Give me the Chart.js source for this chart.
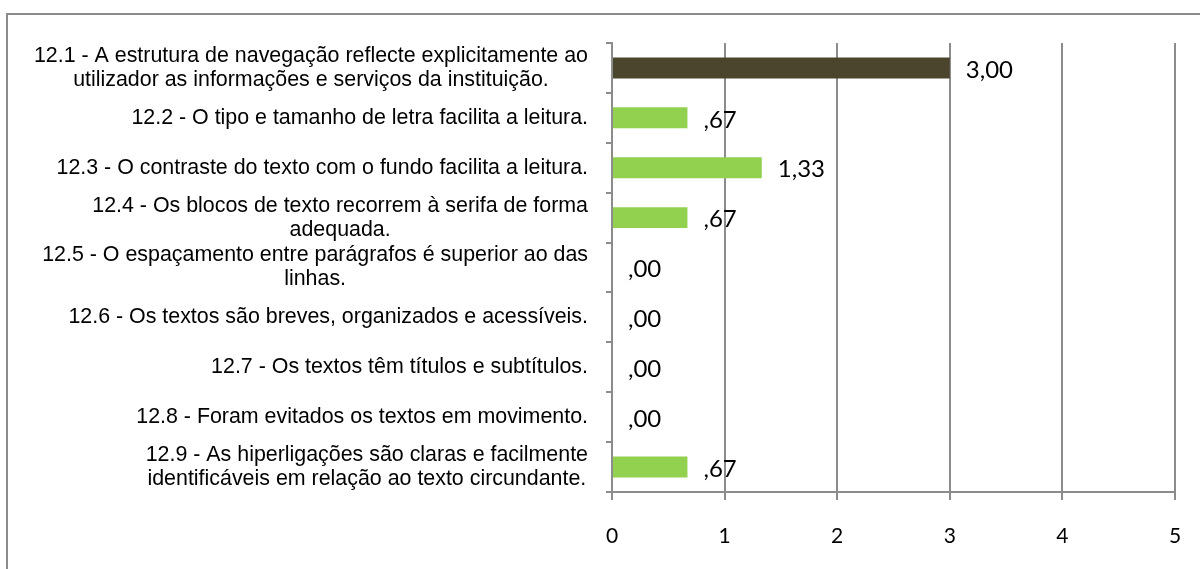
<!DOCTYPE html>
<html>
<head>
<meta charset="utf-8">
<script src="https://cdn.jsdelivr.net/npm/chart.js@4"></script>
<style>
html,body{margin:0;padding:0;background:#fff;}
#wrap{width:1200px;height:569px;position:relative;}
</style>
</head>
<body>
<div id="wrap"><canvas id="c" width="1200" height="569"></canvas></div>
<script>
const categories = [
  ["12.1 - A estrutura de navegação reflecte explicitamente ao", "utilizador as informações e serviços da instituição."],
  ["12.2 - O tipo e tamanho de letra facilita a leitura."],
  ["12.3 - O contraste do texto com o fundo facilita a leitura."],
  ["12.4 - Os blocos de texto recorrem à serifa de forma", "adequada."],
  ["12.5 - O espaçamento entre parágrafos é superior ao das", "linhas."],
  ["12.6 - Os textos são breves, organizados e acessíveis."],
  ["12.7 - Os textos têm títulos e subtítulos."],
  ["12.8 - Foram evitados os textos em movimento."],
  ["12.9 - As hiperligações são claras e facilmente", "identificáveis em relação ao texto circundante."]
];
const values = [3.00, 0.67, 1.33, 0.67, 0.00, 0.00, 0.00, 0.00, 0.67];
const barColors = ["#4B452E", "#92D050", "#92D050", "#92D050", "#92D050", "#92D050", "#92D050", "#92D050", "#92D050"];
const xTicks = [0, 1, 2, 3, 4, 5];

const GRID = "#8C8C8C";
const LABEL_FONT = "21.4px 'Liberation Sans', Arial, sans-serif";
const LINE_H = 24;

function fmt(v) {
  let s = v.toFixed(2).replace('.', ',');
  if (s.startsWith('0,')) s = s.slice(1);
  return s;
}

const borderPlugin = {
  id: 'border',
  beforeDraw(chart) {
    const ctx = chart.ctx;
    ctx.save();
    ctx.fillStyle = '#fff';
    ctx.fillRect(0, 0, chart.width, chart.height);
    ctx.strokeStyle = GRID;
    ctx.lineWidth = 2;
    ctx.strokeRect(7, 14, 1400, 800);
    ctx.restore();
  }
};

const catLabelPlugin = {
  id: 'catLabels',
  afterDraw(chart) {
    const ctx = chart.ctx;
    const ys = chart.scales.y, xs = chart.scales.x;
    ctx.save();
    ctx.font = LABEL_FONT;
    ctx.fillStyle = '#000';
    ctx.textAlign = 'center';
    ctx.textBaseline = 'middle';
    const right = ys.right - 24;
    categories.forEach((lines, i) => {
      const cy = ys.getPixelForValue(i);
      const w = Math.max(...lines.map(l => ctx.measureText(l).width));
      const cx = right - w / 2;
      const y0 = cy - (lines.length - 1) * LINE_H / 2;
      lines.forEach((l, k) => ctx.fillText(l, cx, y0 + k * LINE_H));
    });
    // x tick labels
    ctx.font = "21px Lato, sans-serif";
    ctx.textAlign = 'center';
    ctx.textBaseline = 'middle';
    xTicks.forEach(v => {
      ctx.fillText(String(v), xs.getPixelForValue(v), xs.top + 44);
    });
    ctx.restore();
  }
};

const valueLabelPlugin = {
  id: 'valueLabels',
  afterDatasetsDraw(chart) {
    const ctx = chart.ctx;
    const xs = chart.scales.x, ys = chart.scales.y;
    ctx.save();
    ctx.font = "24px Lato, sans-serif";
    ctx.fillStyle = '#000';
    ctx.textAlign = 'left';
    ctx.textBaseline = 'middle';
    values.forEach((v, i) => {
      ctx.fillText(fmt(v), xs.getPixelForValue(v) + 16, ys.getPixelForValue(i) + 2);
    });
    ctx.restore();
  }
};

new Chart(document.getElementById('c'), {
  type: 'bar',
  data: {
    labels: categories.map((c, i) => String(i)),
    datasets: [{
      data: values,
      backgroundColor: barColors,
      borderWidth: 0,
      barPercentage: 0.42,
      categoryPercentage: 1.0
    }]
  },
  options: {
    indexAxis: 'y',
    responsive: false,
    animation: false,
    devicePixelRatio: 1,
    layout: { padding: { top: 43, right: 25, left: 0, bottom: 0 } },
    plugins: { legend: { display: false }, tooltip: { enabled: false } },
    scales: {
      x: {
        min: 0, max: 5,
        afterBuildTicks(scale) { scale.ticks = xTicks.map(v => ({ value: v })); },
        afterFit(scale) { scale.height = 77; },
        grid: { color: GRID, lineWidth: 2, tickLength: 8, drawTicks: true },
        border: { display: true, color: GRID, width: 2 },
        ticks: { display: false }
      },
      y: {
        offset: true,
        afterFit(scale) { scale.width = 612; },
        grid: { offset: true, drawOnChartArea: false, drawTicks: true, tickLength: 6, color: GRID, lineWidth: 2 },
        border: { display: true, color: GRID, width: 2 },
        ticks: { display: false }
      }
    }
  },
  plugins: [borderPlugin, catLabelPlugin, valueLabelPlugin]
});
</script>
</body>
</html>
